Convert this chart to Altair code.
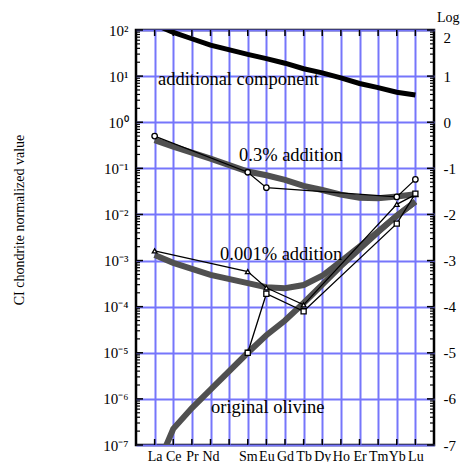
import altair as alt
import pandas as pd

# ---------------- data (log10 of CI-chondrite normalized values) ----------------
elements = ["La", "Ce", "Pr", "Nd", "Pm", "Sm", "Eu", "Gd", "Tb", "Dy", "Ho", "Er", "Tm", "Yb", "Lu"]
tick_labels = ["La", "Ce", "Pr", "Nd", "", "Sm", "Eu", "Gd", "Tb", "Dy", "Ho", "Er", "Tm", "Yb", "Lu"]

model_elems = ["La", "Ce", "Pr", "Nd", "Sm", "Eu", "Gd", "Tb", "Dy", "Ho", "Er", "Tm", "Yb", "Lu"]
additional_log = [2.12, 1.95, 1.81, 1.67, 1.47, 1.38, 1.28, 1.16, 1.07, 0.96, 0.84, 0.75, 0.65, 0.59]
model_03_log = [-0.39, -0.53, -0.66, -0.79, -1.07, -1.15, -1.25, -1.38, -1.47, -1.57, -1.64, -1.65, -1.61, -1.56]
model_0001_log = [-2.88, -3.05, -3.18, -3.31, -3.49, -3.58, -3.60, -3.53, -3.33, -3.02, -2.70, -2.37, -2.03, -1.72]
olivine_log = [-7.6, -6.65, -6.2, -5.8, -5.0, -4.62, -4.3, -3.92, -3.52, -3.12, -2.75, -2.38, -2.03, -1.72]

data_03_elems = ["La", "Sm", "Eu", "Yb", "Lu"]
data_03_log = [-0.30, -1.085, -1.42, -1.62, -1.24]
data_0001_elems = ["La", "Sm", "Eu", "Tb", "Yb", "Lu"]
data_0001_log = [-2.79, -3.24, -3.59, -3.96, -1.78, -1.57]
data_oliv_elems = ["Sm", "Eu", "Tb", "Yb", "Lu"]
data_oliv_log = [-5.0, -3.72, -4.10, -2.20, -1.55]

decades = list(range(-7, 3))
superscripts = ["⁻⁷", "⁻⁶", "⁻⁵", "⁻⁴", "⁻³", "⁻²", "⁻¹", "⁰", "¹", "²"]
minor_mult = [2, 3, 4, 5, 6, 7, 8, 9]

annotations = ["additional component", "0.3% addition", "0.001% addition", "original olivine"]
y_title = "CI chondrite normalized value"
right_title = "Log"

# ---------------- tables ----------------
def frame(elems, logs):
    return pd.DataFrame({"x": [elements.index(e) + 1 for e in elems],
                         "y": [10 ** v for v in logs]})

W, H = 298, 415
PAD = {"left": 128, "top": 22, "right": 28, "bottom": 17}
FONT = "Liberation Serif"
GRID = "#7676fb"

xscale = alt.Scale(domain=[0, 16], nice=False, zero=False)
yscale = alt.Scale(type="log", domain=[1e-7, 1e2], nice=False)

sup_arr = "[" + ",".join("'" + s + "'" for s in superscripts) + "]"
lab_arr = "[''," + ",".join("'" + s + "'" for s in tick_labels) + "]"

x_axis = alt.Axis(values=list(range(1, 16)), labelExpr=lab_arr + "[datum.value]", grid=True,
                  gridColor=GRID, gridWidth=2, ticks=False, domain=False, labelFont=FONT,
                  labelFontSize=14, labelPadding=4, labelOverlap=False, labelFlush=False,
                  labelColor="black", title=None, orient="bottom")
y_axis_left = alt.Axis(values=[10 ** d for d in decades],
                       labelExpr="'10' + " + sup_arr + "[round(log(datum.value)/LN10) + 7]",
                       grid=True, gridColor=GRID, gridWidth=2, ticks=False, domain=False,
                       labelFont=FONT, labelFontSize=15, labelPadding=8, labelOverlap=False,
                       labelFlush=False, labelColor="black", title=None, orient="left")
y_axis_right = alt.Axis(values=[10 ** d for d in decades],
                        labelExpr="'' + round(log(datum.value)/LN10)",
                        grid=False, ticks=False, domain=False, labelFont=FONT, labelFontSize=15,
                        labelPadding=9, labelOverlap=False, labelFlush=False, labelColor="black",
                        labelBaseline=alt.condition("datum.value == 100", alt.value("top"), alt.value("middle")),
                        title=None, orient="right")


def X():
    return alt.X("x:Q", scale=xscale, axis=x_axis)


def Y(axis=None):
    return alt.Y("y:Q", scale=yscale, axis=axis)


layers = []

GRAY = "#505050"
thick_olivine = alt.Chart(frame(model_elems, olivine_log)).mark_line(
    color=GRAY, strokeWidth=6, clip=True).encode(x=X(), y=Y(y_axis_left))
thick_0001 = alt.Chart(frame(model_elems, model_0001_log)).mark_line(
    color=GRAY, strokeWidth=6, clip=True).encode(x=X(), y=Y())
thick_03 = alt.Chart(frame(model_elems, model_03_log)).mark_line(
    color=GRAY, strokeWidth=6, clip=True).encode(x=X(), y=Y())
thick_add = alt.Chart(frame(model_elems, additional_log)).mark_line(
    color="black", strokeWidth=5, clip=True).encode(x=X(), y=Y())
layers += [thick_olivine, thick_0001, thick_03, thick_add]

for elems, logs, shape, size in [(data_03_elems, data_03_log, "circle", 30),
                                  (data_0001_elems, data_0001_log, "triangle-up", 22),
                                  (data_oliv_elems, data_oliv_log, "square", 26)]:
    df = frame(elems, logs)
    layers.append(alt.Chart(df).mark_line(color="black", strokeWidth=1.3, clip=True)
                  .encode(x=X(), y=Y()))
    layers.append(alt.Chart(df).mark_point(shape=shape, size=size, fill="white", stroke="black",
                                           strokeWidth=1.3, opacity=1, fillOpacity=1, clip=True)
                  .encode(x=X(), y=Y()))

# ticks
major_df = pd.DataFrame({"y": [10 ** d for d in decades]})
minor_df = pd.DataFrame({"y": [m * 10 ** d for d in decades[:-1] for m in minor_mult]})
xt_df = pd.DataFrame({"x": list(range(1, 16))})

layers.append(alt.Chart(major_df).mark_rule(color="black", strokeWidth=1.5).encode(
    y=Y(), x=alt.value(0), x2=alt.value(7)))
layers.append(alt.Chart(minor_df).mark_rule(color="black", strokeWidth=1.2).encode(
    y=Y(), x=alt.value(0), x2=alt.value(4)))
layers.append(alt.Chart(minor_df).mark_rule(color="black", strokeWidth=1.2).encode(
    y=Y(), x=alt.value(W), x2=alt.value(W - 4)))
layers.append(alt.Chart(xt_df).mark_rule(color="black", strokeWidth=1.5).encode(
    x=X(), y=alt.value(0), y2=alt.value(6)))
layers.append(alt.Chart(xt_df).mark_rule(color="black", strokeWidth=1.5).encode(
    x=X(), y=alt.value(H), y2=alt.value(H - 6)))
layers.append(alt.Chart(major_df).mark_rule(color="black", strokeWidth=1.5).encode(
    y=Y(y_axis_right), x=alt.value(W), x2=alt.value(W - 7)))

# annotations (pixel offsets inside the plot area)
ann_pos = [(22, 55), (103, 131), (84, 230), (75, 383)]
for label, (px, py) in zip(annotations, ann_pos):
    layers.append(alt.Chart(pd.DataFrame({"t": [label]})).mark_text(
        font=FONT, fontSize=18.5, align="left", baseline="alphabetic", color="black").encode(
        text="t:N", x=alt.value(px), y=alt.value(py)))

layers.append(alt.Chart(pd.DataFrame({"t": [y_title]})).mark_text(
    font=FONT, fontSize=14, angle=270, align="center", baseline="middle", color="black").encode(
    text="t:N", x=alt.value(-116), y=alt.value(190)))
layers.append(alt.Chart(pd.DataFrame({"t": [right_title]})).mark_text(
    font=FONT, fontSize=14, align="left", baseline="alphabetic", color="black").encode(
    text="t:N", x=alt.value(W + 3), y=alt.value(-8)))

chart = alt.layer(*layers).resolve_axis(y="independent").properties(
    width=W, height=H,
    padding=PAD,
    autosize=alt.AutoSizeParams(type="none"),
    background="white",
).configure_view(stroke="black", strokeWidth=2.5)

chart.save("out.html", embed_options={"renderer": "svg", "actions": False})
